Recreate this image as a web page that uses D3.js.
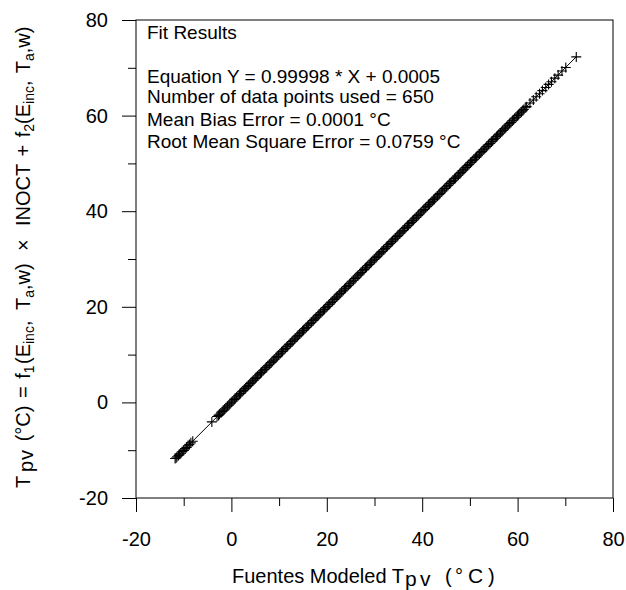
<!DOCTYPE html>
<html><head><meta charset="utf-8">
<script src="https://cdn.jsdelivr.net/npm/d3@7"></script>
<style>
body{margin:0;background:#fff;}
text{font-family:"Liberation Sans",Arial,sans-serif;fill:#000;}
</style></head>
<body><svg id="c" width="626" height="590"></svg>
<script>
// ---- data ----
const modeledTpv = [
-11.8,-11.6,-11.4,-11.1,-10.9,-10.6,-10.3,-10.0,-9.7,-9.4,-9.1,-8.8,-8.5,-8.1,
-4.1,
-3.0,-2.7,-2.5,-2.2,-1.9,-1.6,-1.4,-1.1,-0.8,-0.5,-0.3,0.0,0.3,0.6,0.8,1.1,1.4,1.7,1.9,2.2,2.5,2.8,3.0,3.3,3.6,3.9,4.1,4.4,4.7,5.0,5.2,5.5,5.8,6.1,6.3,6.6,6.9,7.2,7.4,7.7,8.0,8.3,8.5,8.8,9.1,9.4,9.6,9.9,
10.2,10.5,10.7,11.0,11.3,11.6,11.8,12.1,12.4,12.7,12.9,13.2,13.5,13.8,14.0,14.3,14.6,14.9,15.1,15.4,15.7,16.0,16.2,16.5,16.8,17.1,17.3,17.6,17.9,18.2,18.4,18.7,19.0,19.3,19.5,19.8,
20.1,20.4,20.6,20.9,21.2,21.5,21.7,22.0,22.3,22.6,22.8,23.1,23.4,23.7,23.9,24.2,24.5,24.8,25.0,25.3,25.6,25.9,26.1,26.4,26.7,27.0,27.2,27.5,27.8,28.1,28.3,28.6,28.9,29.2,29.4,29.7,
30.0,30.3,30.5,30.8,31.1,31.4,31.6,31.9,32.2,32.5,32.7,33.0,33.3,33.6,33.8,34.1,34.4,34.7,34.9,35.2,35.5,35.8,36.0,36.3,36.6,36.9,37.1,37.4,37.7,38.0,38.2,38.5,38.8,39.1,39.3,39.6,39.9,
40.2,40.4,40.7,41.0,41.3,41.5,41.8,42.1,42.4,42.6,42.9,43.2,43.5,43.7,44.0,44.3,44.6,44.8,45.1,45.4,45.7,45.9,46.2,46.5,46.8,47.0,47.3,47.6,47.9,48.1,48.4,48.7,49.0,49.2,49.5,49.8,
50.1,50.3,50.6,50.9,51.2,51.4,51.7,52.0,52.3,52.5,52.8,53.1,53.4,53.6,53.9,54.2,54.5,54.7,55.0,55.3,55.6,55.8,56.1,56.4,56.7,56.9,57.2,57.5,57.8,58.0,58.3,58.6,58.9,59.1,59.4,59.7,
60.0,60.2,60.5,60.8,61.1,61.3,61.6,61.9,
62.6,63.3,63.9,64.6,65.2,65.9,66.5,67.1,67.8,68.5,69.3,70.1,72.3
];
const computedTpv = [
-11.75,-11.62,-11.38,-11.12,-10.86,-10.63,-10.27,-10.04,-9.68,-9.43,-9.07,-8.82,-8.46,-8.13,
-4.08,
-2.96,-2.72,-2.47,-2.23,-1.88,-1.63,-1.37,-1.12,-0.78,-0.53,-0.27,0.02,0.28,0.63,0.77,1.12,1.38,1.73,1.87,2.23,2.47,2.82,2.98,3.33,3.57,3.92,4.08,4.43,4.67,5.03,5.17,5.53,5.77,6.12,6.28,6.63,6.87,7.23,7.37,7.73,7.97,8.32,8.47,8.83,9.07,9.43,9.57,9.93,
10.17,10.53,10.67,11.03,11.27,11.63,11.77,12.13,12.37,12.73,12.87,13.23,13.47,13.83,13.97,14.33,14.57,14.93,15.07,15.43,15.67,16.03,16.17,16.53,16.77,17.13,17.27,17.63,17.87,18.23,18.37,18.73,18.97,19.33,19.47,19.83,
20.07,20.43,20.57,20.93,21.17,21.53,21.67,22.03,22.27,22.63,22.77,23.13,23.37,23.73,23.87,24.23,24.47,24.83,24.97,25.33,25.57,25.93,26.07,26.43,26.67,27.03,27.17,27.53,27.77,28.13,28.27,28.63,28.87,29.23,29.37,29.73,
29.97,30.33,30.47,30.83,31.07,31.43,31.57,31.93,32.17,32.53,32.67,33.03,33.27,33.63,33.77,34.13,34.37,34.73,34.87,35.23,35.47,35.83,35.97,36.33,36.57,36.93,37.07,37.43,37.67,38.03,38.17,38.53,38.77,39.13,39.27,39.63,39.87,
40.23,40.37,40.73,40.97,41.33,41.47,41.83,42.07,42.43,42.57,42.93,43.17,43.53,43.67,44.03,44.27,44.63,44.77,45.13,45.37,45.73,45.87,46.23,46.47,46.83,46.97,47.33,47.57,47.93,48.07,48.43,48.67,49.03,49.17,49.53,49.77,
50.13,50.27,50.63,50.87,51.23,51.37,51.73,51.97,52.33,52.47,52.83,53.07,53.43,53.57,53.93,54.17,54.53,54.67,55.03,55.27,55.63,55.77,56.13,56.37,56.73,56.87,57.23,57.47,57.83,57.97,58.33,58.57,58.93,59.07,59.43,59.67,
60.03,60.17,60.53,60.77,61.13,61.27,61.63,61.87,
62.63,63.27,63.93,64.57,65.23,65.87,66.53,67.07,67.83,68.47,69.33,70.07,72.28
];
const fitCoefficients = [0.99998, 0.0005]; // slope, intercept
const xTicks = [-20, 0, 20, 40, 60, 80];
const yTicks = [-20, 0, 20, 40, 60, 80];
const minorTicks = [-10, 10, 30, 50, 70];
const fitLines = [
  "Fit Results",
  "Equation Y = 0.99998 * X + 0.0005",
  "Number of data points used = 650",
  "Mean Bias Error = 0.0001 \u00B0C",
  "Root Mean Square Error = 0.0759 \u00B0C"
];

// ---- drawing ----
const svg = d3.select("#c");
const L = 136, R = 613, T = 20, B = 498;
const x = d3.scaleLinear().domain([-20, 80]).range([L, R]);
const y = d3.scaleLinear().domain([-20, 80]).range([B, T]);
const fmt = d => String(d);

// frame
svg.append("rect").attr("x", L).attr("y", T).attr("width", R - L).attr("height", B - T)
  .attr("fill", "none").attr("stroke", "#000").attr("stroke-width", 1);

// axes
const gx = svg.append("g").attr("transform", `translate(0,${B})`)
  .call(d3.axisBottom(x).tickValues(xTicks).tickSize(14).tickPadding(20).tickFormat(fmt));
gx.append("g").call(d3.axisBottom(x).tickValues(minorTicks).tickSize(8).tickFormat(""));
const gy = svg.append("g").attr("transform", `translate(${L},0)`)
  .call(d3.axisLeft(y).tickValues(yTicks).tickSize(14).tickPadding(14).tickFormat(fmt));
gy.append("g").call(d3.axisLeft(y).tickValues(minorTicks).tickSize(8).tickFormat(""));
svg.selectAll(".domain").remove();
svg.selectAll(".tick line").attr("stroke", "#000").attr("stroke-width", 1);
svg.selectAll(".tick text").attr("font-size", 20).attr("font-family", "Liberation Sans, Arial, sans-serif").attr("fill", "#000");
gx.selectAll(".tick text").attr("dy", "0.71em").attr("y", 34);

// fit line
const xs = d3.extent(modeledTpv);
svg.append("line")
  .attr("x1", x(xs[0])).attr("y1", y(fitCoefficients[0] * xs[0] + fitCoefficients[1]))
  .attr("x2", x(xs[1])).attr("y2", y(fitCoefficients[0] * xs[1] + fitCoefficients[1]))
  .attr("stroke", "#000").attr("stroke-width", 1);

// points (+ markers)
const pts = modeledTpv.map((v, i) => [v, computedTpv[i]]);
svg.append("g").selectAll("path").data(pts).join("path")
  .attr("transform", d => `translate(${x(d[0])},${y(d[1])})`)
  .attr("d", "M-5,0H5M0,-5V5")
  .attr("stroke", "#000").attr("stroke-width", 1.1).attr("fill", "none");

// fit results text
const baselines = [39, 83, 103, 126, 148];
svg.append("g").selectAll("text").data(fitLines).join("text")
  .attr("x", 147).attr("y", (d, i) => baselines[i])
  .attr("font-size", 19).text(d => d);

// x title
const xt = svg.append("text").attr("x", 232).attr("y", 583).attr("font-size", 20);
xt.append("tspan").text("Fuentes Modeled T");
xt.append("tspan").attr("x", 405).attr("dy", 3).attr("font-size", 21).text("p");
xt.append("tspan").attr("x", 420).attr("font-size", 21).text("v");
xt.append("tspan").attr("x", 445).attr("dy", -3).text("(");
xt.append("tspan").attr("x", 455).text("\u00B0");
xt.append("tspan").attr("x", 468).attr("font-size", 21).text("C");
xt.append("tspan").attr("x", 488).text(")");

// y title (rotated; x positions are distances along the title from its start)
const yt = svg.append("text").attr("transform", "translate(29.5,488) rotate(-90)")
  .attr("font-size", 20).attr("word-spacing", 2);
function seg(t, kind, ax) {
  const s = yt.append("tspan").text(t);
  if (ax !== undefined) s.attr("x", ax);
  if (kind === "sub") {
    s.attr("dy", 4).attr("font-size", 14);
    yt.append("tspan").attr("dy", -4).text("\u200B");
  } else if (kind === "pv") {
    s.attr("dy", 3).attr("letter-spacing", 1);
    yt.append("tspan").attr("dy", -3).text("\u200B");
  }
}
seg("T"); seg("pv", "pv", 16); seg(" (\u00B0C) = f"); seg("1", "sub");
seg("(E", null, 124); seg("inc", "sub"); seg(","); seg("T", null, 178); seg("a", "sub"); seg(",w)");
seg("\u00D7", null, 237); seg("INOCT + f", null, 262); seg("2", "sub"); seg("(E"); seg("inc", "sub");
seg(", T"); seg("a", "sub"); seg(",w)");
</script></body></html>
